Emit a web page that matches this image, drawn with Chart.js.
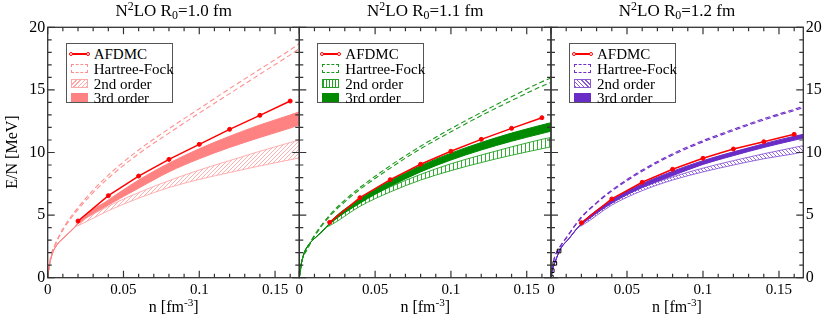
<!DOCTYPE html>
<html>
<head>
<meta charset="utf-8">
<script src="https://cdn.jsdelivr.net/npm/chart.js@4.4.1/dist/chart.umd.min.js"></script>
<style>
  body { margin: 0; background: #fff; }
  #wrap { position: relative; width: 822px; height: 320px; font-family: 'Liberation Serif', 'Times New Roman', serif; color: #000; overflow: hidden; }
  #wrap canvas { position: absolute; left: 0; top: 0; }
  .title { position: absolute; top: 0px; width: 252px; text-align: center; font-size: 17px; line-height: 22px; white-space: nowrap; }
  .xlab { position: absolute; top: 297px; width: 252px; text-align: center; font-size: 16px; line-height: 20px; white-space: nowrap; }
  .ylab { position: absolute; left: -38px; top: 142px; width: 100px; text-align: center; transform: rotate(-90deg); font-size: 16px; line-height: 20px; white-space: nowrap; }
  sup, sub { font-size: 0.7em; line-height: 0; }
  sup { vertical-align: 0.5em; }
  sub { vertical-align: -0.25em; }
  .legend { position: absolute; top: 43px; width: 107px; height: 60px; border: 1px solid #555; background: #fff; box-sizing: border-box; font-size: 15px; font-family: 'Liberation Serif', serif; }
  .row { position: absolute; left: 0; width: 105px; height: 14px; line-height: 14px; }
  .row span { position: absolute; left: 27px; top: 0; white-space: nowrap; }
  .sw { position: absolute; left: 4px; top: 2px; width: 17px; height: 9px; box-sizing: border-box; }
  .sw.line { top: 6px; height: 1.5px; background: #f00; }
  .sw.line::before, .sw.line::after { content: ''; position: absolute; top: -1.5px; width: 4px; height: 4px; border: 1px solid #f00; border-radius: 50%; background: #fff; box-sizing: border-box; }
  .sw.line::before { left: -2px; }
  .sw.line::after { right: -2px; }
</style>
</head>
<body>
<div id="wrap">
  <canvas id="c1" width="822" height="320"></canvas>
  <canvas id="c2" width="822" height="320"></canvas>
  <canvas id="c3" width="822" height="320"></canvas>

  <div class="title" style="left:47.7px">N<sup>2</sup>LO R<sub>0</sub>=1.0 fm</div>
  <div class="title" style="left:299.3px">N<sup>2</sup>LO R<sub>0</sub>=1.1 fm</div>
  <div class="title" style="left:551px">N<sup>2</sup>LO R<sub>0</sub>=1.2 fm</div>

  <div class="xlab" style="left:47.7px">n [fm<sup>-3</sup>]</div>
  <div class="xlab" style="left:299.3px">n [fm<sup>-3</sup>]</div>
  <div class="xlab" style="left:551px">n [fm<sup>-3</sup>]</div>
  <div class="ylab">E/N [MeV]</div>

  <div id="legends"></div>
</div>

<script>
// densities [fm^-3]
const nAfdmc = [0.02, 0.04, 0.06, 0.08, 0.10, 0.12, 0.14, 0.16];
const nHf = [0, 0.002, 0.005, 0.01, 0.02, 0.03, 0.04, 0.06, 0.08, 0.10, 0.12, 0.14, 0.16, 0.166];
const nBand = [0, 0.001, 0.003, 0.006, 0.012, 0.018, 0.02, 0.04, 0.06, 0.08, 0.10, 0.12, 0.14, 0.16, 0.166];

// R0 = 1.0 fm
const afdmc10 = [4.53, 6.55, 8.12, 9.45, 10.65, 11.85, 12.97, 14.11];
const hf10Hi = [0, 1.7, 2.7, 3.9, 5.6, 7.0, 8.2, 10.2, 11.9, 13.5, 15.1, 16.65, 18.2, 18.7];
const hf10Lo = [0, 1.65, 2.6, 3.8, 5.45, 6.8, 7.95, 9.9, 11.55, 13.15, 14.7, 16.25, 17.8, 18.3];
const third10Hi = [0, 0.9, 1.9, 2.6, 3.35, 4.05, 4.45, 6.2, 7.8, 9.15, 10.3, 11.3, 12.2, 13.0, 13.25];
const third10Lo = [0, 0.9, 1.9, 2.6, 3.35, 4.05, 4.3, 5.8, 7.15, 8.45, 9.5, 10.4, 11.2, 11.95, 12.2];
const second10Hi = [0, 0.9, 1.9, 2.6, 3.35, 4.05, 4.3, 5.7, 6.8, 7.75, 8.6, 9.35, 10.1, 10.8, 11.0];
const second10Lo = [0, 0.9, 1.9, 2.6, 3.35, 4.05, 4.15, 5.35, 6.35, 7.2, 7.85, 8.4, 8.93, 9.42, 9.57];

// R0 = 1.1 fm
const afdmc11 = [4.42, 6.39, 7.83, 9.06, 10.1, 11.05, 11.93, 12.78];
const hf11Hi = [0, 1.5, 2.3, 3.4, 5.0, 6.2, 7.2, 8.95, 10.5, 11.9, 13.2, 14.45, 15.65, 15.95];
const hf11Lo = [0, 1.45, 2.2, 3.3, 4.9, 6.05, 7.05, 8.75, 10.3, 11.65, 12.95, 14.15, 15.3, 15.6];
const third11Hi = [0, 0.9, 1.9, 2.6, 3.35, 4.05, 4.4, 6.3, 7.75, 8.95, 9.95, 10.8, 11.55, 12.2, 12.38];
const third11Lo = [0, 0.9, 1.9, 2.6, 3.35, 4.05, 4.3, 5.95, 7.3, 8.45, 9.4, 10.2, 10.9, 11.52, 11.7];
const second11Hi = [0, 0.9, 1.9, 2.6, 3.35, 4.05, 4.3, 6.05, 7.25, 8.25, 9.1, 9.8, 10.45, 11.05, 11.2];
const second11Lo = [0, 0.9, 1.9, 2.6, 3.35, 4.05, 4.15, 5.7, 6.85, 7.8, 8.55, 9.2, 9.78, 10.3, 10.45];

// R0 = 1.2 fm
const afdmc12 = [4.39, 6.29, 7.62, 8.66, 9.54, 10.28, 10.86, 11.45];
const hf12Hi = [0, 1.5, 2.3, 3.2, 4.85, 6.0, 7.0, 8.6, 9.9, 10.95, 11.85, 12.7, 13.45, 13.68];
const hf12Lo = [0, 1.45, 2.25, 3.15, 4.8, 5.95, 6.92, 8.5, 9.8, 10.85, 11.75, 12.6, 13.35, 13.58];
const third12Hi = [0, 0.65, 1.35, 2.25, 3.15, 4.05, 4.35, 6.2, 7.5, 8.5, 9.35, 10.05, 10.7, 11.3, 11.45];
const third12Lo = [0, 0.65, 1.35, 2.25, 3.15, 4.05, 4.25, 5.95, 7.2, 8.15, 9.05, 9.75, 10.4, 10.98, 11.15];
const second12Hi = [0, 0.65, 1.35, 2.25, 3.15, 4.05, 4.25, 6.0, 7.2, 8.05, 8.75, 9.35, 9.9, 10.4, 10.55];
const second12Lo = [0, 0.65, 1.35, 2.25, 3.15, 4.05, 4.15, 5.8, 6.95, 7.8, 8.45, 9.0, 9.5, 9.9, 10.05];
// low-density points (open squares), R0 = 1.2 fm panel
const nLow = [0.0002, 0.0008, 0.0025, 0.0053];
const eLow = [0.05, 0.56, 1.15, 2.13];

const legendLabels = ['AFDMC', 'Hartree-Fock', '2nd order', '3rd order'];

const X_MAX = 0.166;
const FONT = "'Liberation Serif', 'Times New Roman', serif";

const pts = (xs, ys) => xs.map((x, i) => ({ x, y: ys[i] }));

function hatch(color, kind) {
  const c = document.createElement('canvas');
  c.width = 4; c.height = 4;
  const g = c.getContext('2d');
  g.strokeStyle = color;
  g.lineWidth = 0.9;
  g.beginPath();
  if (kind === 'vert') {
    g.moveTo(1.5, 0); g.lineTo(1.5, 4);
  } else if (kind === 'up') {
    g.moveTo(-1, 5); g.lineTo(5, -1);
    g.moveTo(-1, 1); g.lineTo(1, -1);
    g.moveTo(3, 5); g.lineTo(5, 3);
  } else {
    g.moveTo(-1, -1); g.lineTo(5, 5);
    g.moveTo(3, -1); g.lineTo(5, 1);
    g.moveTo(-1, 3); g.lineTo(1, 5);
  }
  g.stroke();
  return g.createPattern(c, 'repeat');
}

// frame with inward ticks on all four sides
const frameTicks = {
  id: 'frameTicks',
  afterDatasetsDraw(chart) {
    const { ctx, chartArea: a, scales: { x, y } } = chart;
    ctx.save();
    ctx.strokeStyle = '#333';
    ctx.lineWidth = 1.2;
    ctx.beginPath();
    for (let i = 0; i * 0.01 <= X_MAX + 1e-9; i++) {
      const px = x.getPixelForValue(i * 0.01);
      const len = i % 5 === 0 ? 7 : 4;
      ctx.moveTo(px, a.bottom); ctx.lineTo(px, a.bottom - len);
      ctx.moveTo(px, a.top); ctx.lineTo(px, a.top + len);
    }
    for (let i = 0; i <= 20; i++) {
      const py = y.getPixelForValue(i);
      const len = i % 5 === 0 ? 7 : 4;
      ctx.moveTo(a.left, py); ctx.lineTo(a.left + len, py);
      ctx.moveTo(a.right, py); ctx.lineTo(a.right - len, py);
    }
    ctx.stroke();
    ctx.lineWidth = 1.3;
    ctx.strokeRect(a.left, a.top, a.right - a.left, a.bottom - a.top);
    ctx.restore();
  }
};

function makePanel(id, cfg) {
  const curve = { pointRadius: 0, cubicInterpolationMode: 'monotone' };
  const datasets = [
    {
      label: 'AFDMC', data: pts(nAfdmc, cfg.afdmc), borderColor: '#ff0000', backgroundColor: '#ff0000',
      borderWidth: 1.5, pointRadius: 2, pointBorderWidth: 1, pointBackgroundColor: '#ff0000', tension: 0, order: 0
    },
    { label: 'Hartree-Fock', data: pts(nHf, cfg.hfHi), borderColor: cfg.color, borderWidth: 1.1, borderDash: [5, 3], fill: false, order: 1, ...curve },
    { label: 'Hartree-Fock lower', data: pts(nHf, cfg.hfLo), borderColor: cfg.color, borderWidth: 1.1, borderDash: [5, 3], fill: false, order: 1, ...curve },
    { label: '3rd order', data: pts(nBand, cfg.thirdHi), borderColor: cfg.thirdFill, borderWidth: 1, backgroundColor: cfg.thirdFill, fill: '+1', order: 2, ...curve },
    { label: '3rd order lower', data: pts(nBand, cfg.thirdLo), borderColor: cfg.thirdFill, borderWidth: 1, fill: false, order: 2, ...curve },
    { label: '2nd order', data: pts(nBand, cfg.secondHi), borderColor: cfg.secondLine, borderWidth: 0.9, backgroundColor: cfg.secondPattern, fill: '+1', order: 3, ...curve },
    { label: '2nd order lower', data: pts(nBand, cfg.secondLo), borderColor: cfg.secondLine, borderWidth: 0.9, fill: false, order: 3, ...curve }
  ];
  if (cfg.low) {
    datasets.push({
      label: 'low density', data: pts(nLow, eLow), showLine: false, pointStyle: 'rect', pointRadius: 2.6,
      borderColor: '#000', borderWidth: 1, pointBackgroundColor: 'rgba(0,0,0,0)', order: 0
    });
  }

  return new Chart(document.getElementById(id), {
    type: 'line',
    data: { datasets },
    plugins: [frameTicks],
    options: {
      responsive: false,
      animation: false,
      events: [],
      layout: { padding: cfg.padding },
      plugins: { legend: { display: false }, tooltip: { enabled: false }, title: { display: false } },
      scales: {
        x: {
          type: 'linear', min: 0, max: X_MAX,
          afterFit(s) { s.height = 320 - 277.7; },
          grid: { display: false, drawTicks: false },
          border: { display: false },
          ticks: {
            stepSize: 0.05, includeBounds: false, padding: 3, maxRotation: 0, autoSkip: false,
            color: '#000', font: { family: FONT, size: 15 },
            callback: v => String(+v.toFixed(2))
          }
        },
        y: {
          type: 'linear', min: 0, max: 20,
          position: cfg.yPos || 'left',
          display: cfg.yPos !== null,
          afterFit(s) { s.width = cfg.yWidth; },
          grid: { display: false, drawTicks: false },
          border: { display: false },
          ticks: { stepSize: 5, padding: 2.5, color: '#000', font: { family: FONT, size: 16 } }
        }
      }
    }
  });
}

const panels = [
  {
    id: 'c1', left: 47.7, color: '#ff9090', thirdFill: '#ff8282', secondLine: '#ffa8a8', hatchKind: 'up',
    afdmc: afdmc10, hfHi: hf10Hi, hfLo: hf10Lo, thirdHi: third10Hi, thirdLo: third10Lo, secondHi: second10Hi, secondLo: second10Lo,
    padding: { left: 0, right: 822 - 299.3, top: 27.3, bottom: 0 }, yPos: 'left', yWidth: 47.7,
    swatchCss: 'repeating-linear-gradient(-45deg, #ffa8a8 0 1px, #fff 1px 3px)'
  },
  {
    id: 'c2', left: 299.3, color: '#1a961a', thirdFill: '#008a00', secondLine: '#22a022', hatchKind: 'vert',
    afdmc: afdmc11, hfHi: hf11Hi, hfLo: hf11Lo, thirdHi: third11Hi, thirdLo: third11Lo, secondHi: second11Hi, secondLo: second11Lo,
    padding: { left: 299.3, right: 822 - 551, top: 27.3, bottom: 0 }, yPos: null, yWidth: 0,
    swatchCss: 'repeating-linear-gradient(90deg, #22a022 0 1px, #fff 1px 3px)'
  },
  {
    id: 'c3', left: 551, color: '#7030c8', thirdFill: '#6a2cc6', secondLine: '#8a5ad6', hatchKind: 'down',
    afdmc: afdmc12, hfHi: hf12Hi, hfLo: hf12Lo, thirdHi: third12Hi, thirdLo: third12Lo, secondHi: second12Hi, secondLo: second12Lo,
    padding: { left: 551, right: 0, top: 27.3, bottom: 0 }, yPos: 'right', yWidth: 822 - 803.3, low: true,
    swatchCss: 'repeating-linear-gradient(45deg, #8a5ad6 0 1px, #fff 1px 3px)'
  }
];

const legendHost = document.getElementById('legends');
panels.forEach(p => {
  p.secondPattern = hatch(p.secondLine, p.hatchKind);
  makePanel(p.id, p);

  const box = document.createElement('div');
  box.className = 'legend';
  box.style.left = (p.left + 18) + 'px';
  const swatches = [
    '<div class="sw line"></div>',
    `<div class="sw" style="border:1px dashed ${p.color}"></div>`,
    `<div class="sw" style="border:1px solid ${p.secondLine};background:${p.swatchCss}"></div>`,
    `<div class="sw" style="background:${p.thirdFill}"></div>`
  ];
  const tops = [3, 18, 32.5, 46.5];
  legendLabels.forEach((lab, i) => {
    const row = document.createElement('div');
    row.className = 'row';
    row.style.top = tops[i] + 'px';
    row.innerHTML = swatches[i] + '<span>' + lab + '</span>';
    box.appendChild(row);
  });
  legendHost.appendChild(box);
});
</script>
</body>
</html>
